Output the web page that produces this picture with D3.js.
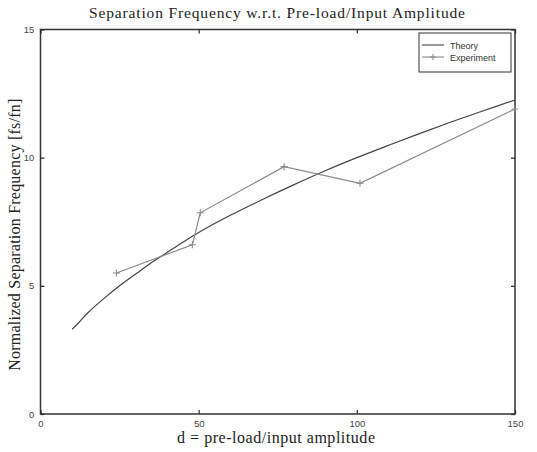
<!DOCTYPE html>
<html><head><meta charset="utf-8">
<script src="https://cdn.jsdelivr.net/npm/d3@7"></script>
<style>body{margin:0;background:#fff}svg{display:block}</style>
</head><body>
<script>
const theoryD = [10, 12, 15, 20, 25, 30, 35, 40, 45, 50, 60, 70, 80, 90, 100, 110, 120, 130, 140, 150];
const theoryF = [3.3, 3.55, 3.95, 4.5, 5.0, 5.45, 5.9, 6.3, 6.7, 7.08, 7.75, 8.36, 8.94, 9.49, 10.0, 10.48, 10.95, 11.4, 11.83, 12.25];
const expD = [24, 48, 50.5, 77, 101, 150];
const expF = [5.5, 6.6, 7.85, 9.65, 9.0, 11.9];
const xTicks = [0, 50, 100, 150];
const yTicks = [0, 5, 10, 15];
const seriesNames = ["Theory", "Experiment"];

const W = 537, H = 452;
const m = {left: 40.5, right: 22, top: 29.5, bottom: 38};
const svg = d3.select("body").append("svg").attr("width", W).attr("height", H);
const x = d3.scaleLinear().domain([0, 150]).range([m.left, W - m.right]);
const y = d3.scaleLinear().domain([0, 15]).range([H - m.bottom, m.top]);
const axisCol = "#333";

svg.append("rect").attr("x", x(0)).attr("y", y(15)).attr("width", x(150) - x(0)).attr("height", y(0) - y(15))
  .attr("fill", "none").attr("stroke", axisCol).attr("stroke-width", 1.5);

const tickFont = "Liberation Sans, Arial, sans-serif";
const gx = svg.append("g").attr("transform", `translate(0,${y(0)})`)
  .call(d3.axisBottom(x).tickValues(xTicks).tickSize(-4).tickPadding(8).tickFormat(d3.format("d")));
const gxt = svg.append("g").attr("transform", `translate(0,${y(15)})`)
  .call(d3.axisTop(x).tickValues(xTicks).tickSize(-4).tickFormat(""));
const gy = svg.append("g").attr("transform", `translate(${x(0)},0)`)
  .call(d3.axisLeft(y).tickValues(yTicks).tickSize(-4).tickPadding(8).tickFormat(d3.format("d")));
const gyr = svg.append("g").attr("transform", `translate(${x(150)},0)`)
  .call(d3.axisRight(y).tickValues(yTicks).tickSize(-4).tickFormat(""));
[gx, gxt, gy, gyr].forEach(g => {
  g.select(".domain").remove();
  g.selectAll("line").attr("stroke", axisCol).attr("stroke-width", 1.3);
  g.selectAll("text").attr("font-family", tickFont).attr("font-size", 9.5).attr("fill", "#444");
});
gx.selectAll("text").attr("dy", "0.55em");
gy.selectAll("text").attr("dx", "0.2em");

const th = theoryD.map((d, i) => [d, theoryF[i]]);
const ex = expD.map((d, i) => [d, expF[i]]);
svg.append("path").datum(th).attr("d", d3.line().x(d => x(d[0])).y(d => y(d[1])).curve(d3.curveCatmullRom))
  .attr("fill", "none").attr("stroke", "#444").attr("stroke-width", 1.2);
svg.append("path").datum(ex).attr("d", d3.line().x(d => x(d[0])).y(d => y(d[1]))).attr("fill", "none")
  .attr("stroke", "#8a8a8a").attr("stroke-width", 1.2);
const plus = (g, cx, cy, s) => {
  g.append("path").attr("d", `M${cx - s},${cy}H${cx + s}M${cx},${cy - s}V${cy + s}`)
    .attr("stroke", "#8a8a8a").attr("stroke-width", 1.1).attr("fill", "none");
};
ex.forEach(d => plus(svg, x(d[0]), y(d[1]), 3.5));

const lg = svg.append("g");
lg.append("rect").attr("x", 419).attr("y", 33).attr("width", 92).attr("height", 39)
  .attr("fill", "#fff").attr("stroke", "#333").attr("stroke-width", 1);
lg.append("line").attr("x1", 422).attr("x2", 444).attr("y1", 45).attr("y2", 45).attr("stroke", "#444").attr("stroke-width", 1.1);
lg.append("line").attr("x1", 422).attr("x2", 444).attr("y1", 57).attr("y2", 57).attr("stroke", "#8a8a8a").attr("stroke-width", 1.1);
plus(lg, 433, 57, 3);
seriesNames.forEach((s, i) => {
  lg.append("text").attr("x", 450).attr("y", 48.5 + i * 12).text(s)
    .attr("font-family", tickFont).attr("font-size", 9).attr("fill", "#333");
});

const serif = "Liberation Serif, Times New Roman, serif";
svg.append("text").attr("x", 277).attr("y", 18).attr("text-anchor", "middle")
  .attr("font-family", serif).attr("font-size", 15.5).attr("fill", "#222")
  .attr("textLength", 376).attr("lengthAdjust", "spacing")
  .text("Separation Frequency w.r.t. Pre-load/Input Amplitude");
svg.append("text").attr("x", 276).attr("y", 443).attr("text-anchor", "middle")
  .attr("font-family", serif).attr("font-size", 16).attr("fill", "#222")
  .attr("textLength", 198).attr("lengthAdjust", "spacing")
  .text("d = pre-load/input amplitude");
svg.append("text").attr("transform", `translate(20,${(y(0) + y(15)) / 2 + 13}) rotate(-90)`)
  .attr("text-anchor", "middle")
  .attr("font-family", serif).attr("font-size", 16).attr("fill", "#222")
  .attr("textLength", 272).attr("lengthAdjust", "spacing")
  .text("Normalized Separation Frequency [fs/fn]");
</script>
</body></html>
